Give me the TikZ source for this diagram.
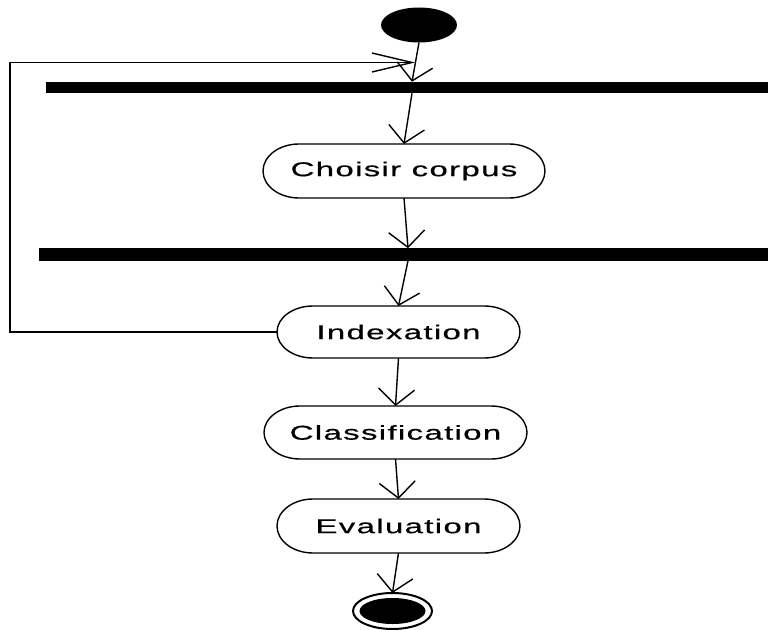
\documentclass[tikz,border=0pt]{standalone}
\usepackage{fontspec}
\newfontfamily\actfont[LetterSpace=4,FakeBold=0.4]{Liberation Sans}
\usetikzlibrary{arrows.meta,shapes.geometric}

% activity outline: straight top and bottom, elliptic ends
\newcommand\pill[3]{% node, end x-radius, end y-radius
  \draw ([xshift=#2bp]#1.north west) -- ([xshift=-#2bp]#1.north east)
    arc[start angle=90,end angle=-90,x radius=#2bp,y radius=#3bp]
    -- ([xshift=#2bp]#1.south west)
    arc[start angle=270,end angle=90,x radius=#2bp,y radius=#3bp] -- cycle;}
% wide lettering of the activity names
\newcommand\wide[1]{\scalebox{1.65}[1]{#1}}

\begin{document}
\begin{tikzpicture}[x=1bp,y=-1bp,line width=1.4bp,
  flow/.style={-{Straight Barb[length=16bp,width=36bp]}},
  back/.style={-{Straight Barb[length=40bp,width=19bp]}},
  act/.style={inner sep=0pt,outer sep=0pt,
    font=\actfont\fontsize{20bp}{22bp}\selectfont},
  syncbar/.style={fill=black,draw=none,inner sep=0pt,outer sep=0pt},
]
\useasboundingbox (0,0) rectangle (768,630);

% initial and final states
\node[ellipse,fill=black,inner sep=0pt,outer sep=0pt,
  minimum width=76bp,minimum height=35bp] (start) at (419,25) {};
\node[ellipse,draw,line width=2bp,inner sep=0pt,outer sep=0pt,
  minimum width=79bp,minimum height=36bp] (final) at (392.5,611) {};
\fill (final.center) ellipse [x radius=33bp,y radius=13bp];

% synchronisation bars
\node[syncbar,minimum width=724bp,minimum height=11.5bp] (bar1) at (408,87.5) {};
\node[syncbar,minimum width=731bp,minimum height=12.5bp] (bar2) at (404.5,254.5) {};

% activities
\node[act,minimum width=282bp,minimum height=54bp] (choisir) at (404,171) {\wide{Choisir corpus}};
\node[act,minimum width=243bp,minimum height=52bp] (index) at (398.5,332) {\wide{Indexation}};
\node[act,minimum width=263bp,minimum height=53bp] (classif) at (395.5,432.5) {\wide{Classification}};
\node[act,minimum width=243bp,minimum height=54bp] (eval) at (398.5,526) {\wide{Evaluation}};
\pill{choisir}{36}{27}
\pill{index}{36}{26}
\pill{classif}{36}{26.5}
\pill{eval}{36}{27}

% transitions
\coordinate (join) at (415,62.5);
\coordinate (corner) at (10,62.5);
\draw[flow] (start.south) -- ([xshift=4bp]bar1.north);
\draw[back] (index.west) -| (corner) -- (join);
\draw[flow] ([xshift=4bp]bar1.south) -- (choisir.north);
\draw[flow] (choisir.south) -- ([xshift=3.5bp]bar2.north);
\draw[flow] ([xshift=3.5bp]bar2.south) -- (index.north);
\draw[flow] (index.south) -- (classif.north);
\draw[flow] (classif.south) -- (eval.north);
\draw[flow] (eval.south) -- (final.north);
\end{tikzpicture}
\end{document}
